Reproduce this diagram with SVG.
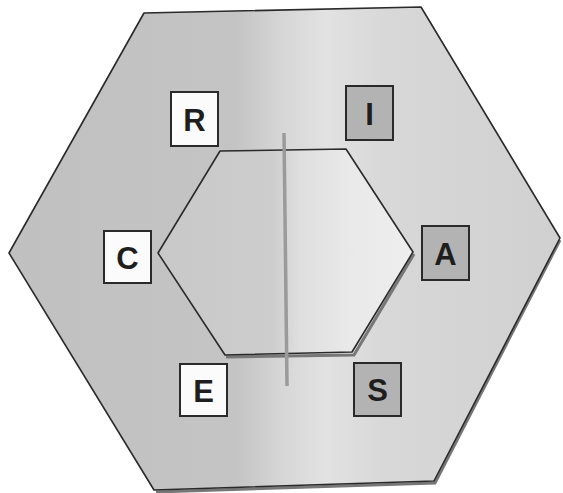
<svg xmlns="http://www.w3.org/2000/svg" width="563" height="493" viewBox="0 0 563 493">
<defs>
<linearGradient id="gOuter" gradientUnits="userSpaceOnUse" x1="0" y1="0" x2="563" y2="0">
<stop offset="0" stop-color="#c0c0c0"/>
<stop offset="0.42" stop-color="#c4c4c4"/>
<stop offset="0.5" stop-color="#d6d6d6"/>
<stop offset="0.58" stop-color="#e2e2e2"/>
<stop offset="0.68" stop-color="#d8d8d8"/>
<stop offset="1" stop-color="#d0d0d0"/>
</linearGradient>
<linearGradient id="gInner" gradientUnits="userSpaceOnUse" x1="158" y1="0" x2="413" y2="0">
<stop offset="0" stop-color="#c8c8c8"/>
<stop offset="0.45" stop-color="#cdcdcd"/>
<stop offset="0.55" stop-color="#dedede"/>
<stop offset="0.75" stop-color="#e9e9e9"/>
<stop offset="1" stop-color="#eeeeee"/>
</linearGradient>
<style>
.hex{stroke:#2a2a2a;stroke-width:1.6;stroke-linejoin:round}
.shadow{fill:none;stroke:#777777;stroke-width:3}
.box{stroke:#2a2a2a;stroke-width:2}
.light{fill:#fbfbfb}
.dark{fill:#b3b3b3}
.lbl{font-family:"Liberation Sans",Arial,sans-serif;font-weight:bold;font-size:31px;fill:#1e1e1e;text-anchor:middle}
</style>
</defs>
<rect width="563" height="493" fill="#ffffff"/>
<g id="outer-hexagon">
<polyline class="shadow" points="560,240 435,483 156,492"/>
<polygon class="hex" fill="url(#gOuter)" points="144,13 421,7 560,238 434,481 154,490 9,253"/>
</g>
<g id="inner-hexagon">
<polyline class="shadow" points="414,254 354,355 226,357"/>
<polygon class="hex" fill="url(#gInner)" points="220,151 346,149 413,252 352,352 225,355 158,253"/>
</g>
<g id="connectors">
<line x1="284" y1="133" x2="287" y2="386" stroke="#9a9a9a" stroke-width="3.5"/>
</g>
<g id="node-R">
<rect class="box light" x="171" y="92" width="47" height="54"/>
<text class="lbl" x="194.5" y="130.5">R</text>
</g>
<g id="node-I">
<rect class="box dark" x="346" y="86" width="47" height="54"/>
<text class="lbl" x="369.5" y="124.5">I</text>
</g>
<g id="node-C">
<rect class="box light" x="104" y="231" width="47" height="52"/>
<text class="lbl" x="127.5" y="268.5">C</text>
</g>
<g id="node-A">
<rect class="box dark" x="422" y="226" width="47" height="54"/>
<text class="lbl" x="445.5" y="264.5">A</text>
</g>
<g id="node-E">
<rect class="box light" x="180" y="364" width="47" height="52"/>
<text class="lbl" x="203.5" y="401.5">E</text>
</g>
<g id="node-S">
<rect class="box dark" x="354" y="363" width="47" height="53"/>
<text class="lbl" x="377.5" y="401">S</text>
</g>
</svg>
